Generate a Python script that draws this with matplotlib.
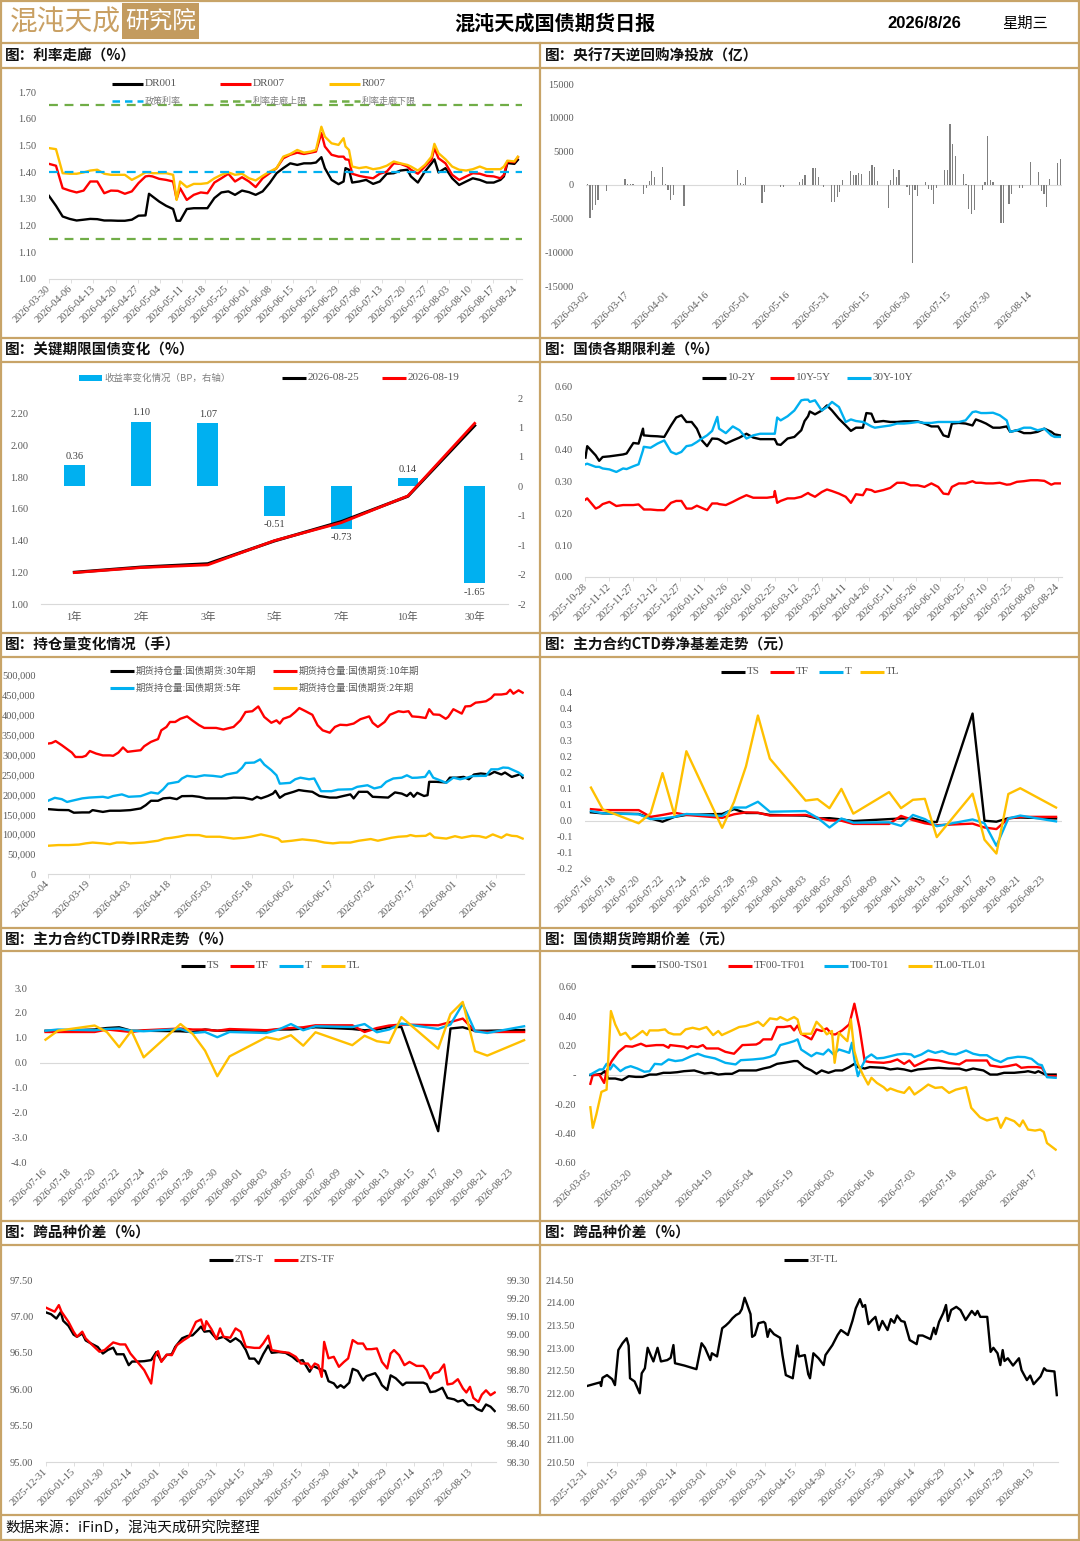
import matplotlib
matplotlib.use('Agg')
import matplotlib.pyplot as plt
import matplotlib.dates as mdates
from matplotlib.lines import Line2D
from matplotlib.patches import Rectangle
from matplotlib.ticker import FuncFormatter, FixedLocator
import numpy as np
import pandas as pd
from decimal import Decimal, ROUND_HALF_UP

# ====================== DATA ======================
report_title = '混沌天成国债期货日报'
report_date = '2026/8/26'
report_weekday = '星期三'
logo_main = '混沌天成'
logo_box = '研究院'
source_text = '数据来源：iFinD，混沌天成研究院整理'
panel_titles = ['图：利率走廊（%）', '图：央行7天逆回购净投放（亿）',
                '图：关键期限国债变化（%）', '图：国债各期限利差（%）',
                '图：持仓量变化情况（手）', '图：主力合约CTD券净基差走势（元）',
                '图：主力合约CTD券IRR走势（%）', '图：国债期货跨期价差（元）',
                '图：跨品种价差（%）', '图：跨品种价差（%）']

# --- P1 rate corridor ---
corr_start = '2026-03-30'
corr_days = [0, 2.2, 4.3, 6.5, 8.7, 10.9, 13.0, 15.2, 17.4, 19.5, 21.7, 23.9, 26.1, 28.2, 30.4, 31.5, 32.6,
             34.7, 36.9, 39.1, 40.2, 41.3, 43.4, 45.6, 47.8, 49.9, 52.1, 54.3, 56.5, 58.6, 60.8, 63.0, 65.1,
             67.3, 69.5, 71.7, 73.8, 76.0, 78.2, 80.3, 82.5, 84.1, 85.8, 86.9, 89.0, 91.2, 92.8, 93.4, 94.5,
             95.5, 97.7, 99.9, 102.1, 104.2, 106.4, 108.6, 110.7, 112.9, 114.0, 116.2, 118.4, 120.5, 121.4,
             122.7, 124.9, 127.0, 129.2, 131.4, 133.5, 135.7, 137.9, 140.1, 142.2, 143.3, 144.4, 146.6, 147.7]
dr001 = [1.311, 1.274, 1.234, 1.225, 1.219, 1.222, 1.225, 1.224, 1.219, 1.219, 1.218, 1.218, 1.222, 1.237,
         1.238, 1.319, 1.309, 1.29, 1.274, 1.262, 1.218, 1.218, 1.262, 1.265, 1.265, 1.265, 1.303, 1.324, 1.328,
         1.315, 1.331, 1.325, 1.315, 1.328, 1.359, 1.396, 1.415, 1.433, 1.427, 1.433, 1.433, 1.436, 1.456, 1.415,
         1.371, 1.355, 1.365, 1.415, 1.409, 1.361, 1.365, 1.371, 1.356, 1.365, 1.394, 1.396, 1.406, 1.409, 1.384,
         1.361, 1.402, 1.433, 1.448, 1.399, 1.415, 1.377, 1.352, 1.365, 1.377, 1.371, 1.361, 1.361, 1.371, 1.384,
         1.434, 1.431, 1.446]
dr007 = [1.431, 1.424, 1.34, 1.331, 1.324, 1.331, 1.365, 1.365, 1.321, 1.331, 1.33, 1.319, 1.328, 1.359, 1.384,
         1.386, 1.384, 1.375, 1.371, 1.365, 1.299, 1.34, 1.296, 1.315, 1.324, 1.321, 1.361, 1.377, 1.394, 1.365,
         1.381, 1.365, 1.344, 1.377, 1.396, 1.415, 1.452, 1.465, 1.473, 1.468, 1.473, 1.477, 1.546, 1.496, 1.465,
         1.458, 1.458, 1.448, 1.446, 1.394, 1.386, 1.381, 1.377, 1.394, 1.402, 1.433, 1.431, 1.421, 1.409, 1.394,
         1.421, 1.446, 1.49, 1.452, 1.433, 1.39, 1.371, 1.384, 1.396, 1.394, 1.386, 1.384, 1.377, 1.39, 1.44,
         1.437, 1.456]
r007 = [1.49, 1.486, 1.396, 1.394, 1.394, 1.399, 1.406, 1.409, 1.394, 1.39, 1.39, 1.39, 1.371, 1.384, 1.399,
        1.399, 1.396, 1.396, 1.396, 1.39, 1.296, 1.365, 1.344, 1.356, 1.356, 1.359, 1.377, 1.39, 1.399, 1.39,
        1.394, 1.377, 1.369, 1.386, 1.402, 1.415, 1.458, 1.468, 1.483, 1.473, 1.477, 1.483, 1.57, 1.533, 1.508,
        1.502, 1.527, 1.496, 1.483, 1.421, 1.415, 1.419, 1.411, 1.415, 1.424, 1.44, 1.433, 1.427, 1.421, 1.406,
        1.427, 1.458, 1.506, 1.471, 1.448, 1.421, 1.409, 1.406, 1.411, 1.421, 1.411, 1.411, 1.411, 1.421, 1.443,
        1.44, 1.458]
policy_rate = 1.40
corridor_upper = 1.65
corridor_lower = 1.15
corr_labels = ['DR001', 'DR007', 'R007', '政策利率', '利率走廊上限', '利率走廊下限']

# --- P2 PBOC 7D reverse repo net injection ---
repo_start = '2026-03-02'
repo_days = [0, 1, 2, 3, 4, 7, 14, 15, 16, 17, 21, 22, 23, 24, 25, 28, 29, 30, 31, 32, 36, 56, 57, 58, 59, 65,
             66, 72, 73, 79, 80, 81, 84, 85, 86, 88, 91, 92, 93, 94, 95, 98, 99, 100, 101, 102, 105, 106, 107,
             108, 112, 113, 114, 115, 116, 119, 120, 121, 122, 123, 126, 127, 128, 129, 130, 133, 134, 135, 136,
             137, 140, 141, 142, 143, 144, 147, 148, 149, 150, 151, 154, 155, 157, 158, 161, 162, 165, 168, 169,
             170, 171, 172, 175, 176]
repo_net = [100, -4925, -3700, -3000, -2300, -900, 850, 150, 150, 150, -1300, -500, 550, 2100, 1200, 2600,
            100, -800, -2300, -1500, -3100, 2200, 300, 200, 1200, -2700, -1050, -300, -300, 450, 950, 1450,
            2550, 2500, 1200, -300, -2550, -2550, -1800, -1050, 800, 2050, 1550, 1550, 1800, 1700, 2050, 2950,
            2600, 550, -3450, 700, 2350, 1200, 2250, -300, -1550, -11640, -800, -1700, 450, -550, -800, -2800,
            -450, 2200, 2200, 9000, 6070, 4280, 1700, 100, -3530, -4280, -3680, -700, 450, 7210, 700, 450,
            -5670, -5670, -2790, -1390, -450, -450, 3380, 1940, -950, -1390, -3280, 950, 3330, 3830]

# --- P3 key tenor yields ---
tenors = ['1年', '2年', '3年', '5年', '7年', '10年', '30年']
yield_0825 = [1.200, 1.233, 1.254, 1.398, 1.520, 1.680, 2.126]
yield_0819 = [1.198, 1.230, 1.247, 1.400, 1.513, 1.682, 2.140]
yield_chg_bp = [0.36, 1.10, 1.07, -0.51, -0.73, 0.14, -1.65]
p3_labels = ['收益率变化情况（BP，右轴）', '2026-08-25', '2026-08-19']

# --- P4 term spreads ---
spread_start = '2025-10-28'
spread_days = [0, 1.1, 6.5, 8.7, 10.9, 15.2, 19.6, 23.9, 26.1, 30.4, 33.7, 36.5, 37.0, 41.3, 45.7, 50.0, 54.3,
               57.6, 60.9, 64.1, 67.4, 70.7, 73.9, 77.2, 80.4, 83.7, 84.8, 89.1, 93.5, 97.8, 102.2, 106.5, 110.9,
               115.2, 119.6, 120.2, 121.7, 123.9, 128.3, 132.6, 137.0, 139.1, 141.3, 142.4, 145.7, 150.0, 153.3,
               156.5, 160.9, 165.2, 168.5, 171.7, 176.1, 178.3, 181.5, 183.7, 189.1, 193.5, 197.8, 202.2, 206.5,
               210.9, 215.2, 219.6, 223.9, 227.2, 230.4, 232.6, 237.0, 241.3, 245.7, 247.8, 251.1, 254.3, 258.7,
               263.0, 267.4, 269.6, 273.9, 278.3, 282.6, 287.0, 291.3, 295.7, 297.8, 301.1]
spread_10_2 = [0.375, 0.411, 0.382, 0.365, 0.377, 0.379, 0.382, 0.385, 0.388, 0.421, 0.419, 0.466, 0.445, 0.443,
               0.442, 0.44, 0.476, 0.501, 0.508, 0.487, 0.487, 0.466, 0.429, 0.411, 0.435, 0.434, 0.432, 0.419,
               0.429, 0.438, 0.45, 0.438, 0.433, 0.433, 0.433, 0.433, 0.417, 0.415, 0.435, 0.44, 0.461, 0.49,
               0.505, 0.52, 0.511, 0.523, 0.539, 0.523, 0.497, 0.476, 0.459, 0.469, 0.469, 0.515, 0.513, 0.487,
               0.49, 0.487, 0.487, 0.489, 0.489, 0.489, 0.482, 0.473, 0.473, 0.445, 0.44, 0.482, 0.484, 0.482,
               0.476, 0.495, 0.489, 0.482, 0.469, 0.469, 0.473, 0.456, 0.461, 0.452, 0.452, 0.456, 0.466, 0.456,
               0.448, 0.445]
spread_10_5 = [0.243, 0.247, 0.215, 0.22, 0.229, 0.236, 0.223, 0.226, 0.226, 0.226, 0.228, 0.215, 0.212, 0.212,
               0.21, 0.21, 0.233, 0.239, 0.239, 0.215, 0.215, 0.224, 0.217, 0.21, 0.231, 0.231, 0.229, 0.226,
               0.236, 0.247, 0.257, 0.249, 0.249, 0.249, 0.252, 0.27, 0.233, 0.239, 0.247, 0.247, 0.252, 0.258,
               0.264, 0.26, 0.252, 0.267, 0.275, 0.27, 0.262, 0.252, 0.233, 0.26, 0.257, 0.276, 0.273, 0.267,
               0.273, 0.28, 0.296, 0.296, 0.288, 0.288, 0.283, 0.294, 0.283, 0.262, 0.26, 0.283, 0.294, 0.294,
               0.301, 0.296, 0.296, 0.294, 0.294, 0.296, 0.29, 0.291, 0.299, 0.301, 0.304, 0.304, 0.302, 0.29,
               0.294, 0.294]
spread_30_10 = [0.354, 0.356, 0.346, 0.346, 0.341, 0.338, 0.33, 0.341, 0.339, 0.348, 0.354, 0.398, 0.409, 0.406,
                0.419, 0.429, 0.393, 0.386, 0.393, 0.411, 0.414, 0.424, 0.435, 0.445, 0.459, 0.503, 0.466, 0.452,
                0.473, 0.461, 0.435, 0.445, 0.45, 0.45, 0.45, 0.45, 0.501, 0.492, 0.505, 0.523, 0.555, 0.557,
                0.557, 0.55, 0.555, 0.523, 0.534, 0.55, 0.534, 0.487, 0.495, 0.49, 0.487, 0.482, 0.473, 0.469,
                0.473, 0.476, 0.482, 0.482, 0.484, 0.487, 0.484, 0.484, 0.487, 0.487, 0.487, 0.487, 0.487, 0.492,
                0.518, 0.52, 0.515, 0.515, 0.516, 0.508, 0.492, 0.456, 0.461, 0.469, 0.469, 0.461, 0.466, 0.445,
                0.44, 0.44]
spread_labels = ['10-2Y', '10Y-5Y', '30Y-10Y']

# --- P5 open interest (thousand lots) ---
oi_start = '2026-03-04'
oi_30y_days = [0, 3.8, 7.6, 9.5, 12.6, 15.2, 16.4, 20.2, 22.8, 26.5, 30.3, 34.1, 36.0, 37.9, 40.5, 42.4, 44.9,
               47.4, 49.3, 53.1, 55.6, 58.2, 63.2, 65.7, 68.3, 72.1, 75.2, 76.9, 78.4, 80.9, 82.8, 83.7, 85.3,
               87.2, 90.4, 92.3, 94.2, 97.3, 99.9, 103.7, 106.2, 108.7, 111.3, 112.5, 114.4, 117.6, 119.5, 125.2,
               127.7, 130.2, 132.1, 133.4, 134.6, 135.9, 138.4, 139.7, 140.3, 142.9, 146.6, 147.9, 150.4, 153.0,
               154.9, 156.8, 159.3, 162.5, 164.3, 166.9, 168.2, 170.7, 172.6, 173.9, 174.7]
oi_30y_k = [163, 161, 160.5, 154, 154.7, 154.7, 160.5, 156, 159, 159, 160.5, 164.7, 173, 184, 184, 190, 191.4,
            188, 195.6, 196, 194, 190, 190, 190, 192, 191.4, 187, 194, 190, 196, 202, 209, 191.4, 200, 206.5,
            211, 209, 206.5, 196, 192, 192, 196, 200, 190, 206.5, 206.5, 194, 192, 205, 202, 196, 204, 194, 204,
            196, 198, 231.6, 231.6, 230, 242, 242, 244, 238, 250, 252.5, 250, 256.6, 250, 255, 244, 248, 251, 242]
oi_10y_days = [0, 1.3, 2.8, 5.1, 7.6, 8.8, 10.1, 12.6, 13.9, 15.4, 17.7, 20.2, 22.8, 24.0, 25.9, 27.6, 29.3,
               31.6, 34.1, 35.4, 37.9, 40.5, 41.7, 43.6, 44.9, 46.8, 48.7, 51.2, 53.1, 55.6, 57.5, 59.4, 61.9,
               64.5, 68.3, 70.8, 72.7, 75.2, 77.4, 79.6, 82.2, 84.1, 85.3, 86.6, 89.1, 91.0, 92.5, 94.8, 97.3,
               99.2, 101.1, 103.7, 105.6, 107.5, 110.0, 112.5, 115.0, 118.2, 119.5, 121.4, 123.9, 125.8, 129.0,
               130.8, 132.7, 134.0, 136.5, 139.0, 140.3, 141.8, 144.1, 146.4, 147.3, 149.2, 152.3, 153.6, 155.5,
               157.4, 159.3, 161.2, 163.1, 164.3, 166.9, 168.8, 170.1, 171.3, 173.2, 174.7]
oi_10y_k = [327.7, 329, 334, 323.5, 311, 305, 294, 294, 297, 309, 302.6, 298, 298, 297, 305, 318, 307, 309, 311,
            321, 332, 339, 361, 369.5, 382, 382, 390, 396, 386, 374, 367, 367, 367, 363, 369.5, 386, 407, 409,
            421, 394.6, 380, 386, 378, 390, 396, 407, 417, 409, 400, 374, 361, 355, 369.5, 375, 374, 378, 389,
            396, 380, 369.5, 382, 400, 409, 407, 409, 396, 394.6, 392, 414, 401, 400, 390, 394.6, 414, 403, 421,
            422, 430.5, 432, 434, 442, 451, 451, 453, 463, 453, 461.5, 455.6]
oi_5y_days = [0, 2.5, 5.1, 7.0, 8.8, 12.6, 15.2, 20.2, 22.1, 24.0, 27.2, 29.7, 34.1, 37.9, 40.5, 42.4, 44.2,
              48.0, 49.3, 51.2, 54.4, 57.5, 60.7, 63.8, 65.7, 69.5, 71.4, 72.7, 75.9, 78.1, 79.6, 82.2, 84.1,
              85.3, 89.1, 91.0, 92.9, 96.1, 98.0, 100.5, 104.3, 106.8, 111.9, 113.8, 117.6, 120.1, 122.6, 124.5,
              127.1, 130.2, 132.1, 134.0, 135.9, 138.8, 140.3, 141.8, 144.8, 146.6, 149.2, 151.7, 154.2, 156.1,
              159.3, 161.2, 163.1, 165.6, 167.5, 169.4, 171.3, 173.2, 174.7]
oi_5y_k = [184, 191.4, 188, 181, 184, 190, 192, 194, 191.4, 196, 200, 194, 195.6, 205, 202, 213, 227, 231.6, 240,
           246.6, 244, 248, 246.6, 244, 250, 255, 266.7, 279, 280, 288, 275, 260.8, 248, 227, 229, 238, 242, 238,
           240, 208, 208, 212, 213, 219, 223, 215, 219, 231.6, 240, 242, 248, 241.6, 242, 244, 259, 242, 234,
           229, 242, 238, 242, 246, 246.6, 246.6, 263, 263, 267.5, 266.7, 260.8, 255, 248]
oi_2y_days = [0, 3.8, 7.6, 11.4, 13.9, 16.4, 20.2, 22.8, 25.3, 27.8, 30.3, 35.4, 40.5, 43.0, 45.5, 48.0, 51.2,
              55.6, 58.2, 63.2, 68.3, 72.1, 74.6, 78.4, 82.2, 84.7, 86.0, 89.8, 93.6, 98.6, 101.8, 104.9, 107.5,
              111.3, 114.4, 118.8, 121.4, 126.4, 129.0, 132.1, 133.4, 135.3, 139.0, 140.6, 142.2, 146.6, 149.8,
              152.3, 156.1, 158.7, 161.2, 163.7, 166.9, 168.8, 170.7, 172.6, 174.7]
oi_2y_k = [71, 72.7, 72.7, 74, 77, 79, 77, 75, 79, 79, 77, 79, 83.6, 89, 91, 93.6, 97.8, 97.8, 93.6, 93.6, 89,
           91, 93.6, 99.5, 93.6, 89, 81, 83.6, 87, 83.6, 79, 77, 79, 79, 83.6, 87.8, 83.6, 91, 93.6, 95, 97.8, 95,
           96, 102, 92, 89, 95, 91, 96, 95, 91, 99.5, 91, 99.5, 96, 95, 89]
oi_labels = ['期货持仓量:国债期货:30年期', '期货持仓量:国债期货:10年期',
             '期货持仓量:国债期货:5年', '期货持仓量:国债期货:2年期']

# --- P6 / P7 CTD net basis & IRR (trading days) ---
ctd_start, ctd_end = '2026-07-16', '2026-08-24'
contracts = ['TS', 'TF', 'T', 'TL']
basis_ts = [0.026, 0.023, 0.021, 0.007, -0.003, 0.012, 0.018, 0.021, 0.036, 0.024, 0.024, 0.018, 0.016, 0.007,
            0.008, 0.004, -0.001, 0.005, 0.007, 0.007, -0.003, -0.004, 0.333, 0.0, -0.003, 0.008, 0.010, 0.007]
basis_tf = [0.036, 0.033, 0.033, 0.012, 0.018, 0.025, 0.018, 0.009, 0.020, 0.026, 0.025, 0.016, 0.018, 0.009,
            0.001, 0.0, -0.010, -0.010, 0.015, 0.002, -0.008, -0.014, -0.009, -0.021, -0.026, 0.007, 0.012, 0.012]
basis_t = [0.030, 0.023, 0.020, 0.005, 0.007, 0.012, 0.021, 0.015, 0.041, 0.041, 0.059, 0.028, 0.030, 0.009,
           -0.021, 0.007, -0.006, -0.005, -0.016, 0.018, 0.005, -0.017, 0.004, -0.008, -0.078, 0.007, 0.016, -0.002]
basis_tl = [0.103, 0.035, -0.008, 0.023, 0.148, 0.018, 0.216, -0.022, 0.059, 0.169, 0.327, 0.193, 0.0625, 0.067,
            0.039, 0.099, 0.022, 0.089, 0.039, 0.065, 0.068, -0.051, 0.084, -0.059, -0.102, 0.083, 0.101, 0.041]
irr_ts = [1.28, 1.28, 1.33, 1.39, 1.42, 1.28, 1.28, 1.26, 1.23, 1.33, 1.28, 1.30, 1.28, 1.33, 1.33, 1.37, 1.42,
          1.35, 1.30, 1.33, 1.43, 1.43, -2.76, 1.37, 1.42, 1.28, 1.28, 1.31]
irr_tf = [1.23, 1.23, 1.23, 1.33, 1.28, 1.23, 1.30, 1.37, 1.33, 1.33, 1.28, 1.35, 1.30, 1.35, 1.39, 1.42, 1.50,
          1.50, 1.23, 1.39, 1.49, 1.53, 1.50, 1.63, 1.77, 1.26, 1.23, 1.23]
irr_t = [1.28, 1.33, 1.30, 1.35, 1.37, 1.28, 1.26, 1.35, 1.19, 1.23, 1.02, 1.23, 1.19, 1.33, 1.55, 1.30, 1.46,
         1.43, 1.55, 1.22, 1.33, 1.57, 1.35, 1.53, 2.36, 1.26, 1.19, 1.46]
irr_tl = [0.92, 1.28, 1.49, 1.23, 0.62, 1.28, 0.21, 1.55, 1.15, 0.48, -0.55, 0.25, 1.02, 0.92, 1.10, 0.68, 1.22,
          0.70, 1.08, 0.86, 0.79, 1.83, 0.56, 1.95, 2.44, 0.46, 0.28, 0.90]
basis_ticklabels_note = 'Excel rounding'

# --- P8 calendar spreads ---
cal_start = '2026-03-05'
cal_ts_days = [0, 1.5, 4.1, 5.3, 6.6, 9.2, 11.7, 14.2, 16.8, 19.3, 21.9, 24.4, 27.0, 29.5, 32.1, 34.6, 38.4, 42.2,
               44.8, 47.3, 49.9, 52.4, 55.0, 57.5, 61.3, 63.9, 66.4, 69.0, 71.5, 75.3, 76.6, 79.1, 81.7, 83.6, 85.5,
               88.0, 90.6, 93.1, 95.7, 97.6, 98.9, 101.4, 103.3, 108.4, 110.9, 113.5, 116.0, 118.6, 121.1, 124.9,
               128.8, 132.6, 136.4, 138.9, 141.5, 145.3, 147.8, 150.4, 152.9, 156.7, 160.6, 161.8, 164.4, 165.6,
               168.2, 170.1, 172.0]
cal_ts = [0, 0, 0.008, 0.026, -0.024, -0.024, -0.035, -0.008, -0.013, -0.013, 0.003, 0.003, 0.015, 0.015, 0.019,
          0.026, 0.031, 0.01, 0.015, 0.003, 0.008, 0.008, 0.031, 0.031, 0.031, 0.044, 0.054, 0.076, 0.083, 0.095,
          0.095, 0.054, 0.031, 0.008, 0.031, 0.015, 0.031, 0.031, 0.054, 0.076, 0.054, 0.044, 0.054, 0.049, 0.038,
          0.044, 0.038, 0.026, 0.038, 0.044, 0.049, 0.044, 0.044, 0.031, 0.044, 0.031, 0.003, 0.003, 0.015, 0.015,
          0.022, 0.026, 0.015, 0.026, 0.003, 0.003, 0.003]
cal_tf_days = [0, 0.9, 3.4, 5.1, 6.0, 7.9, 10.4, 13.0, 15.5, 18.7, 20.6, 24.4, 27.0, 28.9, 29.5, 34.6, 35.9, 37.2,
               39.7, 41.6, 42.9, 47.3, 49.9, 53.1, 56.2, 61.3, 62.6, 63.9, 67.0, 69.0, 71.5, 74.0, 75.3, 76.6, 77.9,
               81.7, 83.6, 85.5, 87.4, 89.3, 90.6, 93.1, 95.7, 97.6, 99.5, 101.4, 103.3, 108.4, 110.9, 113.5, 116.0,
               117.9, 119.8, 122.4, 124.9, 128.8, 132.6, 136.4, 138.9, 141.5, 146.6, 147.8, 151.7, 154.2, 157.4,
               159.3, 161.8, 165.0, 166.9, 168.8, 172.0]
cal_tf = [-0.06, 0, 0, -0.054, 0.026, 0.095, 0.158, 0.197, 0.193, 0.213, 0.197, 0.204, 0.204, 0.186, 0.204, 0.193,
          0.181, 0.197, 0.19, 0.204, 0.181, 0.181, 0.158, 0.145, 0.204, 0.208, 0.22, 0.243, 0.243, 0.327, 0.327,
          0.334, 0.304, 0.338, 0.281, 0.243, 0.311, 0.3, 0.318, 0.277, 0.277, 0.304, 0.345, 0.486, 0.322, 0.095,
          0.088, 0.083, 0.09, 0.106, 0.076, 0.099, 0.06, 0.083, 0.106, 0.099, 0.083, 0.072, 0.099, 0.099, 0.099,
          0.065, 0.054, 0.06, 0.072, 0.049, 0.054, 0.054, 0.049, -0.008, -0.008]
cal_t_days = [0, 3.4, 4.7, 6.0, 7.3, 8.5, 11.1, 13.0, 14.9, 17.4, 20.0, 21.9, 23.8, 26.3, 28.9, 31.4, 34.0, 37.2,
              39.7, 42.2, 46.1, 49.9, 53.7, 55.6, 60.1, 63.9, 66.4, 68.3, 70.2, 73.4, 75.3, 76.6, 77.9, 81.7, 83.6,
              86.1, 88.0, 89.9, 91.9, 93.8, 95.7, 96.7, 97.6, 98.9, 100.1, 102.0, 103.9, 105.9, 108.4, 110.9, 113.5,
              116.0, 118.6, 119.8, 122.4, 124.9, 127.5, 130.0, 132.6, 135.1, 138.9, 141.5, 144.0, 146.6, 149.1,
              151.7, 154.2, 158.0, 160.6, 163.1, 165.6, 166.9, 168.8, 172.0]
cal_t = [0.003, 0.038, 0.038, 0.076, 0.038, 0.072, 0.026, 0.049, 0.06, 0.044, 0.022, 0.026, 0.076, 0.072, 0.106,
         0.095, 0.101, 0.128, 0.145, 0.128, 0.113, 0.083, 0.072, 0.101, 0.106, 0.113, 0.124, 0.14, 0.204, 0.22,
         0.231, 0.243, 0.174, 0.128, 0.151, 0.14, 0.174, 0.14, 0.174, 0.163, 0.151, 0.22, 0.106, -0.008, 0.049,
         0.117, 0.14, 0.113, 0.117, 0.128, 0.14, 0.145, 0.14, 0.122, 0.14, 0.167, 0.151, 0.163, 0.145, 0.14, 0.167,
         0.145, 0.135, 0.135, 0.106, 0.088, 0.113, 0.124, 0.122, 0.11, 0.072, 0.067, -0.015, -0.019]
cal_tl_days = [0, 0.9, 2.2, 4.1, 6.0, 7.6, 9.2, 11.1, 13.0, 14.9, 16.8, 19.3, 20.9, 21.9, 25.1, 27.6, 28.9, 30.8,
               33.3, 35.2, 37.8, 40.3, 42.9, 45.4, 47.3, 48.6, 52.4, 55.0, 57.5, 60.1, 62.0, 63.9, 66.4, 69.0, 70.2,
               72.8, 75.3, 76.6, 77.9, 81.7, 83.6, 85.5, 87.4, 89.3, 90.3, 91.9, 93.1, 95.0, 96.3, 97.6, 98.9, 100.8,
               102.7, 103.9, 105.9, 108.4, 109.7, 110.9, 113.5, 116.0, 117.9, 119.8, 122.4, 124.9, 127.5, 130.0,
               132.6, 135.1, 138.9, 140.8, 144.0, 146.6, 150.4, 151.7, 153.6, 156.7, 158.7, 159.9, 161.8, 164.4,
               166.3, 167.6, 168.8, 172.0]
cal_tl = [-0.22, -0.36, -0.27, -0.115, -0.1, 0.436, 0.345, 0.272, 0.288, 0.243, 0.265, 0.3, 0.272, 0.304, 0.304,
          0.311, 0.288, 0.277, 0.277, 0.311, 0.322, 0.311, 0.327, 0.272, 0.3, 0.272, 0.304, 0.327, 0.334, 0.35,
          0.363, 0.334, 0.386, 0.379, 0.395, 0.372, 0.395, 0.379, 0.281, 0.281, 0.363, 0.327, 0.277, 0.3, 0.083,
          0.288, 0.265, 0.231, 0.379, 0.163, 0.076, 0, -0.065, -0.019, -0.054, -0.083, -0.106, -0.092, -0.11,
          -0.122, -0.083, -0.133, -0.1, -0.065, -0.088, -0.083, -0.122, -0.1, -0.083, -0.224, -0.288, -0.31,
          -0.292, -0.36, -0.292, -0.315, -0.35, -0.31, -0.372, -0.379, -0.372, -0.388, -0.464, -0.509]
cal_labels = ['TS00-TS01', 'TF00-TF01', 'T00-T01', 'TL00-TL01']

# --- P9 2TS-T / 2TS-TF ---
cross_start = '2025-12-31'
ts_t_days = [0, 2.7, 5.5, 7.8, 9.1, 11.9, 14.6, 16.4, 19.2, 21.0, 23.7, 27.4, 30.1, 32.8, 35.6, 37.4, 41.1, 43.8,
             45.6, 48.4, 52.0, 55.7, 58.4, 61.1, 63.9, 66.6, 68.4, 72.1, 74.8, 77.6, 80.3, 82.1, 83.9, 86.7, 90.3,
             94.0, 97.6, 100.4, 103.1, 105.8, 107.7, 110.4, 112.6, 115.0, 117.7, 119.5, 123.2, 126.8, 130.5, 133.2,
             135.9, 139.6, 141.4, 145.1, 147.8, 149.6, 152.4, 154.2, 156.0, 157.8, 160.6, 162.4, 165.1, 167.9,
             169.7, 174.3, 176.1, 177.9, 180.7, 182.5, 185.2, 188.9, 190.7, 194.3, 199.8, 201.6, 203.5, 206.2,
             209.9, 212.6, 216.2, 218.1, 220.8, 223.5, 226.3, 228.1, 230.8, 233.0, 235.4, 237.6]
ts_t = [97.055, 97.03, 96.97, 97.06, 96.94, 96.87, 96.75, 96.72, 96.765, 96.67, 96.63, 96.58, 96.49, 96.54, 96.57,
        96.48, 96.48, 96.33, 96.38, 96.38, 96.385, 96.40, 96.51, 96.385, 96.47, 96.48, 96.58, 96.70, 96.73, 96.74,
        96.81, 96.86, 96.79, 96.80, 96.69, 96.72, 96.65, 96.70, 96.65, 96.54, 96.42, 96.42, 96.35, 96.48, 96.60,
        96.50, 96.51, 96.50, 96.445, 96.385, 96.40, 96.24, 96.32, 96.275, 96.25, 96.11, 96.08, 96.02, 96.055,
        96.02, 96.09, 96.28, 96.25, 96.12, 96.18, 96.22, 96.15, 96.055, 95.99, 96.19, 96.15, 96.055, 96.09, 96.09,
        96.09, 96.07, 95.96, 95.97, 96.02, 95.88, 95.86, 95.83, 95.85, 95.78, 95.78, 95.73, 95.70, 95.79, 95.76,
        95.70]
ts_tf_days = [0, 4.6, 6.8, 8.2, 11.9, 14.6, 16.4, 19.2, 21.0, 24.6, 28.3, 31.0, 35.6, 39.2, 42.0, 44.7, 48.4, 52.0,
              55.7, 57.5, 59.3, 61.1, 63.9, 66.6, 69.3, 73.0, 75.7, 79.4, 82.1, 83.9, 84.9, 87.6, 90.3, 92.2, 94.0,
              97.6, 100.4, 103.1, 105.8, 110.4, 113.1, 115.0, 117.7, 119.5, 124.1, 128.6, 132.3, 135.0, 138.7,
              140.5, 142.3, 144.2, 146.0, 147.3, 149.6, 152.4, 155.1, 157.8, 160.0, 162.4, 165.1, 167.9, 169.7,
              172.4, 175.2, 177.9, 180.7, 182.5, 184.3, 187.0, 189.8, 192.5, 196.2, 199.8, 201.6, 203.5, 205.3,
              208.0, 210.8, 212.6, 215.3, 218.1, 220.8, 222.6, 224.5, 226.3, 229.0, 230.8, 233.0, 235.4, 237.6]
ts_tf = [99.148, 99.126, 99.162, 99.126, 99.07, 99.016, 98.988, 99.016, 98.979, 98.942, 98.906, 98.915, 98.957,
         98.946, 98.946, 98.896, 98.85, 98.805, 98.731, 98.878, 98.909, 98.85, 98.89, 98.887, 98.942, 98.97, 98.988,
         99.07, 99.083, 99.025, 99.074, 99.03, 98.975, 99.034, 98.988, 98.983, 99.034, 99.016, 98.933, 98.927,
         98.927, 98.951, 98.994, 98.915, 98.906, 98.9, 98.878, 98.841, 98.841, 98.814, 98.841, 98.832, 98.768,
         98.96, 98.87, 98.878, 98.823, 98.85, 98.869, 98.97, 98.951, 98.951, 98.92, 98.92, 98.924, 98.85, 98.814,
         98.896, 98.915, 98.887, 98.832, 98.85, 98.828, 98.828, 98.805, 98.759, 98.787, 98.795, 98.836, 98.726,
         98.731, 98.755, 98.704, 98.682, 98.713, 98.652, 98.63, 98.67, 98.694, 98.667, 98.682]
cross_labels = ['2TS-T', '2TS-TF']

# --- P10 3T-TL ---
t_tl_days = [0, 4.9, 6.6, 7.1, 7.8, 10.1, 12.7, 14.1, 15.8, 17.9, 20.0, 21.0, 21.7, 24.0, 26.6, 27.6, 29.2, 30.6,
             32.1, 33.5, 35.6, 37.3, 40.5, 42.2, 43.6, 44.4, 49.1, 55.2, 57.8, 59.5, 62.2, 63.0, 65.6, 68.2, 70.0,
             71.7, 73.4, 75.2, 76.9, 78.1, 79.5, 80.7, 82.5, 83.3, 84.7, 86.5, 89.1, 89.9, 91.1, 92.2, 94.3, 97.4,
             98.6, 100.3, 103.8, 106.1, 106.9, 109.9, 111.6, 112.5, 114.2, 116.8, 119.4, 120.3, 123.8, 126.4,
             128.1, 130.4, 131.6, 133.9, 135.6, 137.7, 139.1, 140.3, 142.0, 143.8, 145.5, 147.2, 149.0, 151.6,
             153.3, 155.0, 156.4, 158.5, 160.2, 162.8, 166.3, 167.2, 169.3, 173.3, 175.0, 175.9, 177.6, 179.7,
             181.1, 182.1, 183.7, 186.3, 188.4, 191.0, 192.4, 194.1, 195.8, 197.0, 198.4, 201.9, 203.6, 205.0,
             207.1, 208.5, 209.7, 210.6, 212.3, 214.9, 217.9, 219.2, 221.9, 223.6, 225.3, 228.8, 230.6, 231.8,
             235.8, 237.0]
t_tl = [212.17, 212.23, 212.25, 212.17, 212.35, 212.41, 212.32, 212.19, 212.96, 213.11, 213.22, 213.06, 212.34,
        212.27, 212.01, 212.45, 212.56, 213.01, 212.85, 212.71, 213.01, 212.71, 212.74, 212.79, 213.07, 212.67,
        212.62, 212.54, 213.11, 213.01, 212.74, 212.89, 212.82, 213.44, 213.50, 213.57, 213.66, 213.73, 213.77,
        213.86, 214.11, 213.97, 213.75, 213.25, 213.29, 213.55, 213.58, 213.55, 213.25, 213.42, 213.31, 213.23,
        212.85, 212.41, 212.34, 213.06, 212.82, 212.85, 212.43, 212.34, 212.89, 212.78, 212.63, 212.85, 213.07,
        213.29, 213.40, 213.33, 213.29, 213.60, 213.88, 214.08, 213.91, 213.95, 213.53, 213.62, 213.69, 213.40,
        213.60, 213.40, 213.64, 213.56, 213.72, 213.60, 213.58, 213.18, 213.09, 213.28, 213.28, 213.20, 213.45,
        213.31, 213.58, 213.77, 213.95, 213.60, 213.84, 213.91, 213.84, 213.62, 213.71, 213.82, 213.73, 213.82,
        213.69, 213.69, 212.92, 213.01, 212.89, 212.63, 212.96, 212.72, 212.78, 212.62, 212.78, 212.52, 212.30,
        212.40, 212.21, 212.38, 212.56, 212.51, 212.49, 211.97]
t_tl_label = '3T-TL'

# ====================== STYLE / LAYOUT ======================
W, H = 1080, 1541
fig = plt.figure(figsize=(W / 100, H / 100), dpi=100)
fig.patch.set_facecolor('white')
SERIF = ['Liberation Serif', 'Noto Sans CJK SC']
CJK = ['Noto Sans CJK SC', 'DejaVu Sans']
plt.rcParams['font.family'] = SERIF
GOLD = '#C8A468'
TICK_C = '#595959'
AXIS_C = '#D9D9D9'
BLACK, RED, BLUE, YELLOW, GREEN, GRAY = '#000000', '#FF0000', '#00B0F0', '#FFC000', '#70AD47', '#7F7F7F'
LW = 1.7


def fx(x):
    return x / W


def fy(y):
    return 1 - y / H


def dnum(s):
    return mdates.date2num(pd.Timestamp(s).to_pydatetime())


def dates(start, days):
    return dnum(start) + np.asarray(days, dtype=float)


def hline(y, x0=0, x1=W, lw=1.6):
    fig.add_artist(Line2D([fx(x0), fx(x1)], [fy(y), fy(y)], transform=fig.transFigure, color=GOLD, lw=lw))


def vline(x, y0=0, y1=H, lw=1.6):
    fig.add_artist(Line2D([fx(x), fx(x)], [fy(y0), fy(y1)], transform=fig.transFigure, color=GOLD, lw=lw))


def base_ax(x0, y0, x1, y1):
    ax = fig.add_axes([fx(x0), fy(y1), (x1 - x0) / W, (y1 - y0) / H])
    ax.patch.set_visible(False)
    for s in ('top', 'right', 'left'):
        ax.spines[s].set_visible(False)
    ax.spines['bottom'].set_color(AXIS_C)
    ax.spines['bottom'].set_linewidth(0.8)
    ax.tick_params(axis='y', length=0, labelsize=7.5, labelcolor=TICK_C, pad=9)
    ax.tick_params(axis='x', length=3, width=0.6, color=AXIS_C, labelsize=7.5, labelcolor=TICK_C, pad=3)
    return ax


def date_axis(ax, start, end, step, xlim):
    ticks = [dnum(t) for t in pd.date_range(start, end, freq=f'{step}D')]
    ax.xaxis.set_major_locator(FixedLocator(ticks))
    ax.xaxis.set_major_formatter(mdates.DateFormatter('%Y-%m-%d'))
    ax.set_xlim(*xlim)
    plt.setp(ax.get_xticklabels(), rotation=45, ha='right', va='center', rotation_mode='anchor')


def excel_fmt(dec):
    q = Decimal(1).scaleb(-dec)

    def f(v, pos=None):
        d = Decimal(repr(round(float(v), 6))).quantize(q, rounding=ROUND_HALF_UP)
        s = f'{d:f}'
        if s.startswith('-') and d == 0:
            s = s[1:]
        return s
    return FuncFormatter(f)


def yticks(ax, lo, hi, step, fmt):
    ax.set_yticks(np.round(np.arange(lo, hi + step / 2, step), 6))
    ax.yaxis.set_major_formatter(fmt)


def zero_axis(ax):
    ax.spines['bottom'].set_visible(False)
    ax.tick_params(axis='x', length=0, pad=6)
    ax.axhline(0, color=AXIS_C, lw=0.8, zorder=1)


def leg_line(x, y, label, color, ls='-', length=24, fs=8, family=None, tcolor=TICK_C, lw=2.2):
    fig.add_artist(Line2D([fx(x), fx(x + length)], [fy(y), fy(y)], transform=fig.transFigure,
                          color=color, lw=lw, ls=ls, solid_capstyle='butt'))
    fig.text(fx(x + length + 1.5), fy(y), label, ha='left', va='center', fontsize=fs, color=tcolor,
             family=family if family else SERIF)


# ---------------- frame & header ----------------
for y in (1, 43, 68, 338, 362, 633, 657, 928, 951, 1221, 1245, 1515, 1540):
    hline(y)
vline(1)
vline(1079)
vline(540, 43, 1515)

fig.text(fx(10), fy(22), logo_main, fontsize=20, color='#C9A063', family=CJK, ha='left', va='center')
fig.add_artist(Rectangle((fx(122), fy(39)), 77 / W, 36 / H, transform=fig.transFigure,
                         facecolor='#C39B5F', edgecolor='none'))
fig.text(fx(160.5), fy(21), logo_box, fontsize=17, color='white', family=CJK, ha='center', va='center')
fig.text(fx(555), fy(23), report_title, fontsize=14.5, color='black', family=CJK, weight='bold',
         ha='center', va='center')
fig.text(fx(924), fy(23), report_date, fontsize=12, color='black', family=['Liberation Sans'],
         weight='bold', ha='center', va='center')
fig.text(fx(1025), fy(23), report_weekday, fontsize=11, color='black', family=CJK, ha='center', va='center')

title_pos = [(5, 56), (545, 56), (5, 350), (545, 350), (5, 645), (545, 645), (5, 940), (545, 940),
             (5, 1233), (545, 1233)]
for (tx, ty), t in zip(title_pos, panel_titles):
    fig.text(fx(tx), fy(ty), t, fontsize=10.5, weight='bold', family=CJK, ha='left', va='center', color='#111111')
fig.text(fx(5), fy(1528), source_text, fontsize=10.5, family=CJK, ha='left', va='center', color='#111111')

# ---------------- P1 rate corridor ----------------
ax = base_ax(49, 92, 522, 279)
d = dates(corr_start, corr_days)
ax.plot(d, dr001, color=BLACK, lw=LW)
ax.plot(d, dr007, color=RED, lw=LW)
ax.plot(d, r007, color=YELLOW, lw=LW)
ax.axhline(policy_rate, color=BLUE, lw=1.6, ls=(0, (4, 3)))
ax.axhline(corridor_upper, color=GREEN, lw=1.6, ls=(0, (4, 3)))
ax.axhline(corridor_lower, color=GREEN, lw=1.6, ls=(0, (4, 3)))
ax.set_ylim(1.0, 1.7)
yticks(ax, 1.0, 1.7, 0.1, FuncFormatter(lambda v, p: f'{v:.2f}'))
date_axis(ax, '2026-03-30', '2026-08-24', 7, (dnum(corr_start), dnum(corr_start) + 149))
for x, lab, c in zip((112, 220, 329), corr_labels[:3], (BLACK, RED, YELLOW)):
    leg_line(x, 84, lab, c, length=31)
for x, lab, c in zip((112, 220, 329), corr_labels[3:], (BLUE, GREEN, GREEN)):
    leg_line(x, 101, lab, c, ls=(0, (3, 2)), length=31, fs=6.5, family=CJK, tcolor='#7F7F7F', lw=1.8)

# ---------------- P2 reverse repo ----------------
ax = base_ax(586, 84, 1062, 286)
d = dates(repo_start, repo_days)
ax.bar(d, repo_net, width=0.45, color=GRAY)
ax.axhline(0, color=AXIS_C, lw=0.8, zorder=0)
ax.set_ylim(-15000, 15000)
yticks(ax, -15000, 15000, 5000, FuncFormatter(lambda v, p: f'{v:.0f}'))
ax.spines['bottom'].set_visible(False)
date_axis(ax, '2026-03-02', '2026-08-14', 15, (dnum(repo_start) - 0.5, dnum(repo_start) + 176.7))
ax.tick_params(axis='x', length=0, pad=5)

# ---------------- P3 key tenors ----------------
ax = base_ax(41, 398, 508, 604)
axr = ax.twinx()
for s in axr.spines.values():
    s.set_visible(False)
x = np.arange(len(tenors))
bars = axr.bar(x, yield_chg_bp, width=0.31, color=BLUE)
axr.bar_label(bars, labels=[f'{v:.2f}' for v in yield_chg_bp], padding=3, fontsize=7.5, color='#404040')
ax.plot(x, yield_0825, color=BLACK, lw=2.2)
ax.plot(x, yield_0819, color=RED, lw=2.0)
ax.set_zorder(axr.get_zorder() + 1)
ax.set_ylim(1.0, 2.3)
yticks(ax, 1.0, 2.2, 0.2, FuncFormatter(lambda v, p: f'{v:.2f}'))
axr.set_ylim(-2, 1.5)
yticks(axr, -2, 1.5, 0.5, excel_fmt(0))
axr.tick_params(axis='y', length=0, labelsize=7.5, labelcolor=TICK_C, pad=7)
ax.set_xlim(-0.5, len(tenors) - 0.5)
ax.set_xticks(x)
ax.set_xticklabels(tenors)
ax.tick_params(axis='x', length=0, pad=6)
fig.add_artist(Rectangle((fx(79), fy(381)), 23 / W, 6 / H, transform=fig.transFigure,
                         facecolor=BLUE, edgecolor='none'))
fig.text(fx(104), fy(378), p3_labels[0], fontsize=6.8, family=CJK, color='#7F7F7F', ha='left', va='center')
leg_line(282, 378, p3_labels[1], BLACK)
leg_line(382, 378, p3_labels[2], RED)

# ---------------- P4 term spreads ----------------
ax = base_ax(585, 386, 1062, 577)
d = dates(spread_start, spread_days)
ax.plot(d, spread_10_2, color=BLACK, lw=LW)
ax.plot(d, spread_10_5, color=RED, lw=LW)
ax.plot(d, spread_30_10, color=BLUE, lw=LW)
ax.set_ylim(0, 0.6)
yticks(ax, 0, 0.6, 0.1, FuncFormatter(lambda v, p: f'{v:.2f}'))
date_axis(ax, '2025-10-28', '2026-08-24', 15, (dnum(spread_start) - 0.3, dnum(spread_start) + 302.5))
for xl, lab, c in zip((702, 770, 847), spread_labels, (BLACK, RED, BLUE)):
    leg_line(xl, 378, lab, c)

# ---------------- P5 open interest ----------------
ax = base_ax(48, 675, 524, 874)
ax.plot(dates(oi_start, oi_30y_days), np.array(oi_30y_k) * 1000, color=BLACK, lw=LW)
ax.plot(dates(oi_start, oi_10y_days), np.array(oi_10y_k) * 1000, color=RED, lw=LW)
ax.plot(dates(oi_start, oi_5y_days), np.array(oi_5y_k) * 1000, color=BLUE, lw=LW)
ax.plot(dates(oi_start, oi_2y_days), np.array(oi_2y_k) * 1000, color=YELLOW, lw=LW)
ax.set_ylim(0, 500000)
yticks(ax, 0, 500000, 50000, FuncFormatter(lambda v, p: f'{v:,.0f}'))
date_axis(ax, '2026-03-04', '2026-08-16', 15, (dnum(oi_start), dnum(oi_start) + 175.2))
leg_line(110, 671, oi_labels[0], BLACK, fs=6.8, family=CJK)
leg_line(273, 671, oi_labels[1], RED, fs=6.8, family=CJK)
leg_line(110, 688, oi_labels[2], BLUE, fs=6.8, family=CJK)
leg_line(273, 688, oi_labels[3], YELLOW, fs=6.8, family=CJK)

# ---------------- P6 CTD net basis ----------------
tdays = [dnum(t) for t in pd.bdate_range(ctd_start, ctd_end)]
ax = base_ax(585, 692, 1062, 869)
for vals, c in zip((basis_ts, basis_tf, basis_t, basis_tl), (BLACK, RED, BLUE, YELLOW)):
    ax.plot(tdays, vals, color=c, lw=LW)
ax.set_ylim(-0.15, 0.40)
yticks(ax, -0.15, 0.40, 0.05, excel_fmt(1))
zero_axis(ax)
date_axis(ax, '2026-07-16', '2026-08-23', 2, (dnum(ctd_start) - 0.5, dnum(ctd_end) + 0.5))
for xl, lab, c in zip((721, 770, 819, 860), contracts, (BLACK, RED, BLUE, YELLOW)):
    leg_line(xl, 672, lab, c)

# ---------------- P7 CTD IRR ----------------
ax = base_ax(40, 988, 529, 1162)
for vals, c in zip((irr_ts, irr_tf, irr_t, irr_tl), (BLACK, RED, BLUE, YELLOW)):
    ax.plot(tdays, vals, color=c, lw=LW)
ax.set_ylim(-4, 3)
yticks(ax, -4, 3, 1, FuncFormatter(lambda v, p: f'{v:.1f}'))
zero_axis(ax)
date_axis(ax, '2026-07-16', '2026-08-23', 2, (dnum(ctd_start) - 0.45, dnum(ctd_end) + 0.4))
for xl, lab, c in zip((181, 230, 279, 321), contracts, (BLACK, RED, BLUE, YELLOW)):
    leg_line(xl, 966, lab, c)

# ---------------- P8 calendar spreads ----------------
ax = base_ax(589, 987, 1057, 1163)
ax.plot(dates(cal_start, cal_ts_days), cal_ts, color=BLACK, lw=LW)
ax.plot(dates(cal_start, cal_tf_days), cal_tf, color=RED, lw=LW)
ax.plot(dates(cal_start, cal_t_days), cal_t, color=BLUE, lw=LW)
ax.plot(dates(cal_start, cal_tl_days), cal_tl, color=YELLOW, lw=LW)
ax.set_ylim(-0.6, 0.6)
yticks(ax, -0.6, 0.6, 0.2, FuncFormatter(lambda v, p: '-' if abs(v) < 1e-9 else f'{v:.2f}'))
zero_axis(ax)
date_axis(ax, '2026-03-05', '2026-08-17', 15, (dnum(cal_start) - 0.5, dnum(cal_start) + 172.5))
for xl, lab, c in zip((631, 728, 824, 908), cal_labels, (BLACK, RED, BLUE, YELLOW)):
    leg_line(xl, 966, lab, c)

# ---------------- P9 2TS-T / 2TS-TF ----------------
ax = base_ax(46, 1280, 496, 1462)
axr = ax.twinx()
for s in axr.spines.values():
    s.set_visible(False)
ax.plot(dates(cross_start, ts_t_days), ts_t, color=BLACK, lw=LW)
axr.plot(dates(cross_start, ts_tf_days), ts_tf, color=RED, lw=LW)
ax.set_ylim(95, 97.5)
yticks(ax, 95, 97.5, 0.5, FuncFormatter(lambda v, p: f'{v:.2f}'))
axr.set_ylim(98.3, 99.3)
yticks(axr, 98.3, 99.3, 0.1, FuncFormatter(lambda v, p: f'{v:.2f}'))
axr.tick_params(axis='y', length=0, labelsize=7.5, labelcolor=TICK_C, pad=8)
date_axis(ax, '2025-12-31', '2026-08-13', 15, (dnum(cross_start), dnum(cross_start) + 238.3))
leg_line(209, 1260, cross_labels[0], BLACK)
leg_line(274, 1260, cross_labels[1], RED)

# ---------------- P10 3T-TL ----------------
ax = base_ax(587, 1280, 1058, 1462)
ax.plot(dates(cross_start, t_tl_days), t_tl, color=BLACK, lw=LW)
ax.set_ylim(210.5, 214.5)
yticks(ax, 210.5, 214.5, 0.5, FuncFormatter(lambda v, p: f'{v:.2f}'))
date_axis(ax, '2025-12-31', '2026-08-13', 15, (dnum(cross_start), dnum(cross_start) + 237.6))
leg_line(784, 1260, t_tl_label, BLACK)

fig.savefig('out.png', dpi=100, facecolor='white')
